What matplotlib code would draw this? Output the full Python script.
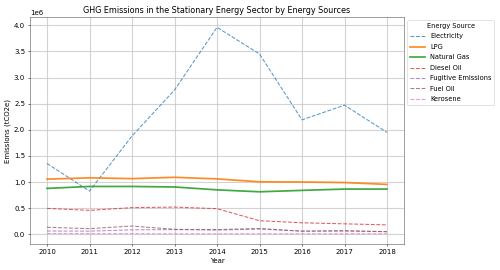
import matplotlib
matplotlib.use("Agg")
import matplotlib.pyplot as plt

years = [2010, 2011, 2012, 2013, 2014, 2015, 2016, 2017, 2018]
electricity = [1.355e6, 0.826e6, 1.88e6, 2.76e6, 3.96e6, 3.45e6, 2.19e6, 2.47e6, 1.95e6]
lpg = [1.055e6, 1.08e6, 1.065e6, 1.09e6, 1.06e6, 1.004e6, 1.0e6, 0.99e6, 0.954e6]
natural_gas = [0.878e6, 0.915e6, 0.915e6, 0.905e6, 0.85e6, 0.813e6, 0.84e6, 0.865e6, 0.865e6]
diesel_oil = [0.496e6, 0.458e6, 0.51e6, 0.52e6, 0.49e6, 0.26e6, 0.22e6, 0.20e6, 0.18e6]
fugitive = [0.063e6, 0.06e6, 0.085e6, 0.09e6, 0.08e6, 0.10e6, 0.06e6, 0.06e6, 0.05e6]
fuel_oil = [0.134e6, 0.108e6, 0.158e6, 0.095e6, 0.09e6, 0.11e6, 0.06e6, 0.07e6, 0.05e6]
kerosene = [0.015e6, 0.012e6, 0.012e6, 0.01e6, 0.01e6, 0.01e6, 0.01e6, 0.01e6, 0.01e6]

series = [
    ("Electricity", electricity, "--", 1.5),
    ("LPG", lpg, "-", 2.5),
    ("Natural Gas", natural_gas, "-", 2.5),
    ("Diesel Oil", diesel_oil, "--", 1.5),
    ("Fugitive Emissions", fugitive, "--", 1.5),
    ("Fuel Oil", fuel_oil, "--", 1.5),
    ("Kerosene", kerosene, "--", 1.5),
]

fig, ax = plt.subplots(figsize=(10, 5.4), dpi=50)
for i, (name, vals, ls, lw) in enumerate(series):
    ax.plot(years, vals, ls, lw=lw, color=f"C{i}", label=name,
            alpha=0.9 if ls == "-" else 0.75)

ax.set_title("GHG Emissions in the Stationary Energy Sector by Energy Sources", fontsize=11.5)
ax.set_xlabel("Year")
ax.set_ylabel("Emissions (tCO2e)")
ax.set_xticks(years)
ax.grid(True, color="#c8c8c8", lw=1.6, alpha=0.8)
for s in ax.spines.values():
    s.set_color("#555555")
ax.legend(title="Energy Source", loc="upper left", bbox_to_anchor=(1, 1),
          fontsize=9.6, title_fontsize=9.6, labelspacing=0.67, handlelength=2.2)
fig.subplots_adjust(left=0.06, right=0.808, top=0.937, bottom=0.096)
fig.savefig("out.png", dpi=50)
